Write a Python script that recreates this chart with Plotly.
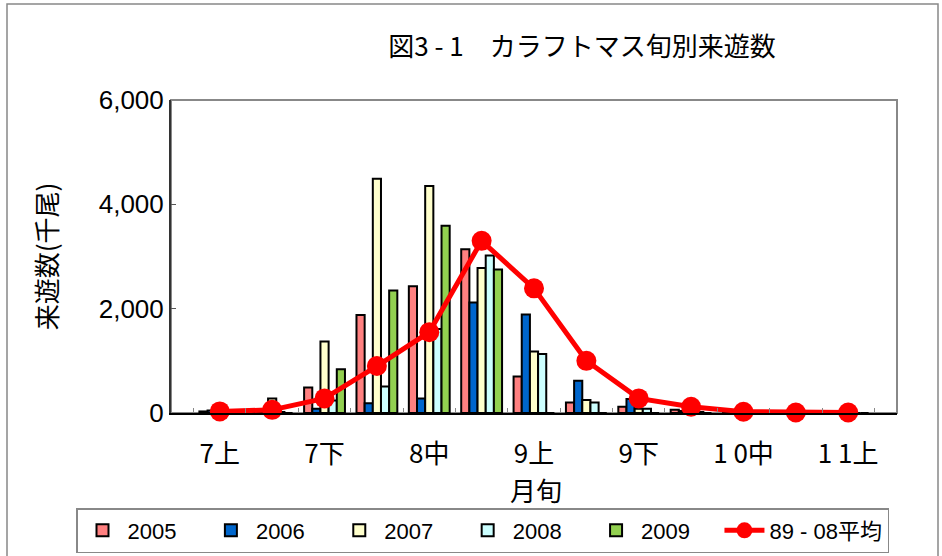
import plotly.graph_objects as go

categories = ["7上", "7中", "7下", "8上", "8中", "8下", "9上", "9中", "9下", "10上", "10中", "10下", "11上"]
tick_text = ["7上", "", "7下", "", "8中", "", "9上", "", "9下", "", "1 0中", "", "1 1上"]

s2005 = [30, 10, 490, 1880, 2430, 3140, 700, 200, 120, 60, 10, 0, 0]
s2006 = [50, 10, 80, 185, 280, 2120, 1890, 620, 270, 40, 10, 0, 0]
s2007 = [30, 280, 1370, 4490, 4350, 2780, 1180, 250, 80, 20, 0, 0, 0]
s2008 = [10, 20, 240, 510, 1610, 3020, 1130, 200, 80, 20, 0, 0, 0]
s2009 = [0, 0, 840, 2350, 3590, 2750, 0, 0, 0, 0, 0, 0, 0]
avg_89_08 = [30, 60, 280, 900, 1550, 3300, 2390, 1000, 280, 120, 25, 10, 10]

series_names = ["2005", "2006", "2007", "2008", "2009"]
series_vals = [s2005, s2006, s2007, s2008, s2009]
series_colors = ["#FF8080", "#0066CC", "#FFFFCC", "#CCFFFF", "#92D050"]

JP = "Noto Sans CJK JP"
LAT = "Liberation Sans, Arial"
PAD = "\u00a0" * 4

fig = go.Figure()
for name, vals, col in zip(series_names, series_vals, series_colors):
    fig.add_trace(go.Bar(
        x=categories, y=vals, name=name + PAD,
        marker=dict(color=col, line=dict(color="black", width=2)),
    ))

fig.add_trace(go.Scatter(
    x=categories, y=avg_89_08, name="89 - 08平均",
    mode="lines+markers",
    line=dict(color="#FF0000", width=5),
    marker=dict(color="#FF0000", size=20),
    cliponaxis=False,
))

L, R, T, B = 171, 45, 100, 143
W, H = 942, 556
pw, ph = W - L - R, H - T - B

def px(x):
    return (x - L) / pw

def py(y):
    return (H - B - y) / ph

fig.update_layout(
    width=W, height=H,
    margin=dict(l=L, r=R, t=T, b=B, autoexpand=False),
    paper_bgcolor="white", plot_bgcolor="white",
    barmode="group", bargap=0.22, bargroupgap=0,
    title=dict(text="図3 - 1　カラフトマス旬別来遊数", x=(582) / W, xanchor="center",
               y=1 - 47 / H, yanchor="middle",
               font=dict(family=JP, size=26, color="black")),
    showlegend=True,
    legend=dict(orientation="h", x=px(76), xanchor="left", y=py(553), yanchor="bottom",
                bordercolor="#888888", borderwidth=1.5, bgcolor="white",
                font=dict(family=LAT + ", " + JP, size=22, color="black"),
                itemwidth=40, tracegroupgap=0),
    xaxis=dict(
        type="category",
        tickmode="array", tickvals=categories, ticktext=tick_text,
        tickson="boundaries", ticks="inside", ticklen=5, tickcolor="#888888",
        tickangle=0, automargin=False,
        showline=True, linecolor="black", linewidth=2,
        showgrid=False, zeroline=False,
        tickfont=dict(family=JP, size=26, color="black"),
        ticklabelstandoff=17,
    ),
    yaxis=dict(
        range=[0, 6000], dtick=2000, tickformat=",",
        ticks="inside", ticklen=5, tickcolor="#555555", automargin=False,
        showline=True, linecolor="#333333", linewidth=2,
        showgrid=False, zeroline=False,
        tickfont=dict(family=LAT, size=26, color="black"),
        title=dict(text="来遊数(千尾)", font=dict(family=JP, size=26, color="black"), standoff=34),
    ),
    annotations=[
        dict(text="月旬", xref="paper", yref="paper", x=px(536), y=py(489),
             xanchor="center", yanchor="middle", showarrow=False,
             font=dict(family=JP, size=26, color="black")),
    ],
    shapes=[
        dict(type="rect", xref="paper", yref="paper", x0=0, x1=1, y0=0, y1=1,
             line=dict(color="#888888", width=2), layer="below"),
        dict(type="rect", xref="paper", yref="paper", x0=px(7), x1=px(938), y0=py(560), y1=py(4),
             line=dict(color="#888888", width=1.5), layer="below"),
    ],
)

fig.write_html("out.html", config={"displayModeBar": False},
               post_script="document.body.style.margin='0';")
